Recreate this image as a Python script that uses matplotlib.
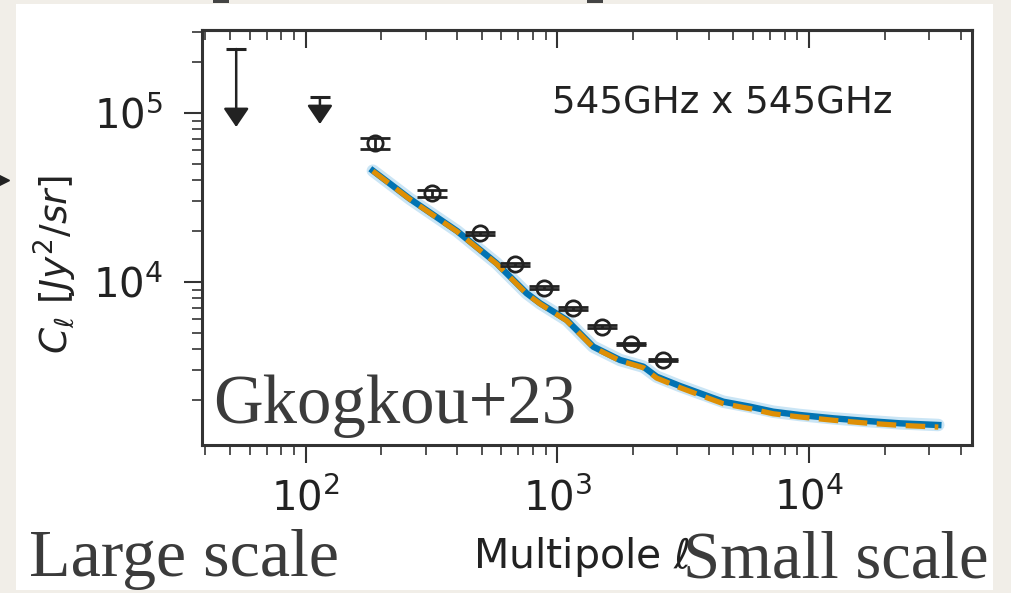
import matplotlib
matplotlib.use("Agg")
import matplotlib.pyplot as plt
from matplotlib.patches import Rectangle
from matplotlib.lines import Line2D
from matplotlib.ticker import NullFormatter

# ---------------- data ----------------
ell_pts = [188, 318, 495, 680, 882, 1152, 1502, 1957, 2640]
cl_pts = [66500, 33500, 19400, 12700, 9250, 6990, 5440, 4300, 3455]
cl_err = [5000, 1700, 450, 280, 180, 130, 100, 80, 60]

ell_ul = [53, 114]
cl_ul_cap = [2.39e5, 1.24e5]
cl_ul_tip = [8.26e4, 8.6e4]

ell_model = [185, 260, 400, 574, 756, 854, 1090, 1390, 1775, 2197, 2483,
             3073, 3690, 4566, 5829, 7212, 9186, 12490, 16960, 23000, 32640]
cl_blue = [45570, 31000, 20000, 12900, 8574, 7482, 5958, 4141, 3455, 3154,
           2752, 2424, 2195, 1957, 1829, 1708, 1633, 1561, 1505, 1458, 1425]
cl_orange = [45300, 30800, 19850, 12800, 8500, 7420, 5900, 4100, 3420, 3110,
             2700, 2370, 2140, 1905, 1780, 1660, 1590, 1520, 1462, 1418, 1385]

xlim = (38.76, 44420)
ylim = (1085, 3.098e5)

# ---------------- figure ----------------
W, H = 1011, 593
fig = plt.figure(figsize=(W / 100, H / 100), dpi=100)
fig.patch.set_facecolor('#f1eee8')
fig.add_artist(Rectangle((16 / W, 1 - 590 / H), (993 - 16) / W, (590 - 4) / H,
                         transform=fig.transFigure, facecolor='white',
                         edgecolor='none', zorder=0))
# fragments of slide elements at the edges
for x0 in (213, 587):
    fig.add_artist(Rectangle((x0 / W, 1 - 2.5 / H), 16 / W, 2.5 / H,
                             transform=fig.transFigure, facecolor='#444444',
                             edgecolor='none', zorder=1))
fig.add_artist(Line2D([2 / W], [1 - 180 / H], marker='>', ms=10, color='#222222',
                      transform=fig.transFigure, zorder=1))

ax = fig.add_axes([202 / W, 1 - 445 / H, (972 - 202) / W, (445 - 30) / H])
ax.set_facecolor('white')
ax.set_xscale('log')
ax.set_yscale('log')
ax.set_xlim(*xlim)
ax.set_ylim(*ylim)

spine_c = '#333333'
for s in ax.spines.values():
    s.set_linewidth(2.2)
    s.set_color(spine_c)

ax.tick_params(axis='both', which='major', direction='out', length=13, width=1.5,
               color=spine_c, labelsize=29, labelcolor='#222222')
ax.tick_params(axis='both', which='minor', direction='out', length=7, width=1.2,
               color=spine_c)
ax.tick_params(axis='y', which='major', pad=15)
ax.tick_params(axis='x', which='major', pad=11)
ax.tick_params(axis='both', which='both', right=False, top=False)

secax = ax.secondary_xaxis('top')
secax.tick_params(axis='x', which='major', direction='in', length=13, width=1.5,
                  color=spine_c, labeltop=False)
secax.tick_params(axis='x', which='minor', direction='in', length=7, width=1.2,
                  color=spine_c, labeltop=False)
secax.xaxis.set_major_formatter(NullFormatter())
secax.xaxis.set_minor_formatter(NullFormatter())
secax.spines['top'].set_linewidth(2.2)
secax.spines['top'].set_color(spine_c)

# model lines
ax.plot(ell_model, cl_blue, color='#9fd0ee', lw=9, alpha=0.55,
        solid_capstyle='round', zorder=2)
ax.plot(ell_model, cl_blue, color='#0173b2', lw=4.6, zorder=3)
ax.plot(ell_model, cl_orange, color='#de8f05', lw=3.8, ls=(0, (3.7, 1.8)),
        zorder=4)

# data points
ax.errorbar(ell_pts, cl_pts, yerr=cl_err, fmt='o', mfc='none', mec='#222222',
            mew=2.0, ms=11, ecolor='#222222', elinewidth=2.0, capsize=10.5,
            capthick=2.2, zorder=5)

# upper limits
for x, cap, tip in zip(ell_ul, cl_ul_cap, cl_ul_tip):
    ax.annotate('', xy=(x, tip), xytext=(x, cap),
                arrowprops=dict(arrowstyle='-|>,head_length=1.15,head_width=0.78',
                                color='#222222', lw=1.8, shrinkA=0, shrinkB=0,
                                mutation_scale=10),
                zorder=5)
ax.plot(ell_ul, cl_ul_cap, ls='none', marker='_', ms=13.7, mew=2.2,
        color='#222222', zorder=5)

ax.text((552 - 202) / 770, (445 - 114) / 415, '545GHz x 545GHz',
        transform=ax.transAxes, fontsize=26.8, color='#222222',
        ha='left', va='baseline')

ax.set_xlabel(r'Multipole $\ell$', fontsize=29.5, color='#222222')
ax.xaxis.set_label_coords((582 - 202) / 770, (445 - 568) / 415)
ax.xaxis.label.set_va('baseline')
ax.set_ylabel(r'$C_\ell\ [Jy^2/sr]$', fontsize=27, color='#222222')
ax.yaxis.set_label_coords((55 - 202) / 770, (445 - 265) / 415)
ax.yaxis.label.set_va('center')

serif = dict(family='Liberation Serif', color='#3b3b3b')
fig.text(213 / W, 1 - 423 / H, 'Gkogkou+23', ha='left', va='baseline',
         fontsize=49.5, **serif)
fig.text(29 / W, 1 - 576 / H, 'Large scale', ha='left', va='baseline',
         fontsize=49, **serif)
fig.text(683 / W, 1 - 578 / H, 'Small scale', ha='left', va='baseline',
         fontsize=48, **serif)

fig.savefig('out.png', dpi=100, facecolor=fig.get_facecolor())
